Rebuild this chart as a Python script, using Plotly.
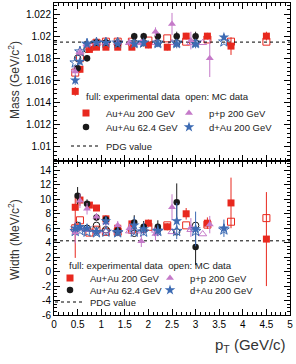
import plotly.graph_objects as go
from plotly.subplots import make_subplots

# ---------------- data ----------------
# Au+Au 200 GeV (red squares)
pt_auau200 = [0.45, 0.55, 0.75, 0.9, 1.1, 1.35, 1.65, 2.0, 2.4, 2.8, 3.25, 3.75, 4.5]
mass_auau200 = [1.0150, 1.0170, 1.0188, 1.0190, 1.0190, 1.0190, 1.0190, 1.0192, 1.0190, 1.0200, 1.0200, 1.0191, 1.0200]
mass_err_auau200 = [0.0004, 0.0003, 0.0003, 0.0002, 0.0002, 0.0002, 0.0002, 0.0003, 0.0003, 0.0003, 0.0003, 0.0008, 0.0004]
width_auau200 = [8.9, 9.9, 9.2, 8.8, 7.3, 6.0, 6.6, 6.7, 6.2, 8.0, 6.7, 9.5, 4.5]
width_errp_auau200 = [1.5, 0.8, 0.5, 0.4, 0.5, 0.5, 0.5, 0.5, 0.5, 0.8, 0.8, 3.5, 6.5]
width_errm_auau200 = [7.0, 0.8, 0.5, 0.4, 0.5, 0.5, 0.5, 0.5, 0.5, 0.8, 0.8, 3.5, 6.5]
mass_auau200_mc = [1.0167, 1.0180, 1.0190, 1.0194, 1.0195, 1.0195, 1.0195, 1.0196, 1.0198, 1.0195, 1.0197, 1.0195, 1.0195]
width_auau200_mc = [6.0, 7.1, 5.4, 5.8, 5.5, 5.5, 5.8, 6.2, 6.4, 6.4, 6.5, 6.9, 7.4]

# Au+Au 62.4 GeV (black circles)
pt_auau62 = [0.5, 0.7, 0.9, 1.1, 1.35, 1.7, 1.9, 2.2, 2.6, 3.0]
mass_auau62 = [1.0171, 1.0180, 1.0194, 1.0194, 1.0193, 1.0200, 1.0200, 1.0200, 1.0200, 1.0200]
mass_err_auau62 = [0.0004, 0.0003, 0.0002, 0.0002, 0.0002, 0.0003, 0.0003, 0.0003, 0.0004, 0.0004]
width_auau62 = [10.5, 9.4, 7.5, 7.2, 5.7, 6.8, 6.2, 6.2, 9.6, 3.4]
width_err_auau62 = [1.2, 0.6, 0.5, 0.5, 0.5, 1.0, 0.8, 0.9, 2.6, 2.5]
mass_auau62_mc = [1.0180, 1.0188, 1.0194, 1.0194, 1.0194, 1.0194, 1.0194, 1.0194, 1.0194, 1.0194]
width_auau62_mc = [6.4, 6.0, 6.4, 5.8, 5.6, 5.3, 5.8, 5.8, 5.5, 6.4]

# p+p 200 GeV (violet triangles)
pt_pp = [0.45, 0.55, 0.7, 0.9, 1.1, 1.35, 1.6, 1.85, 2.15, 2.5, 2.9, 3.3]
mass_pp = [1.0168, 1.0185, 1.0192, 1.0194, 1.0194, 1.0194, 1.0194, 1.0194, 1.0204, 1.0211, 1.0196, 1.0180]
mass_err_pp = [0.0004, 0.0003, 0.0003, 0.0002, 0.0002, 0.0002, 0.0003, 0.0003, 0.0004, 0.0010, 0.0008, 0.0017]
width_pp = [5.4, 9.8, 8.7, 7.6, 6.8, 6.4, 6.0, 4.2, 5.2, 8.9, 6.1, 6.5]
width_err_pp = [1.5, 1.0, 0.8, 0.5, 0.6, 0.6, 0.6, 0.8, 0.9, 1.8, 1.3, 1.2]
pt_pp_mc = [0.45, 0.55, 0.7, 0.9, 1.1, 1.35, 1.6, 1.85, 2.15, 2.5, 2.9, 3.15]
mass_pp_mc = [1.0170, 1.0186, 1.0193, 1.0194, 1.0194, 1.0194, 1.0194, 1.0194, 1.0194, 1.0194, 1.0194, 1.0194]
width_pp_mc = [5.8, 6.0, 5.8, 5.6, 5.6, 5.6, 5.6, 5.6, 5.7, 5.5, 5.8, 5.2]

# d+Au 200 GeV (blue stars)
pt_dau = [0.45, 0.55, 0.7, 0.9, 1.1, 1.35, 1.7, 1.9, 2.2, 2.6, 3.0, 3.6]
mass_dau = [1.0160, 1.0177, 1.0193, 1.0194, 1.0194, 1.0193, 1.0193, 1.0194, 1.0193, 1.0193, 1.0193, 1.0199]
mass_err_dau = [0.0004, 0.0003, 0.0003, 0.0002, 0.0002, 0.0002, 0.0003, 0.0003, 0.0003, 0.0004, 0.0004, 0.0003]
width_dau = [6.0, 6.2, 6.0, 5.5, 7.0, 5.5, 6.4, 5.9, 5.7, 7.0, 5.9, 6.0]
width_err_dau = [0.6, 0.6, 0.5, 0.5, 0.6, 0.6, 1.2, 0.9, 0.8, 2.5, 2.4, 1.2]
mass_dau_mc = [1.0176, 1.0186, 1.0193, 1.0194, 1.0194, 1.0194, 1.0194, 1.0194, 1.0194, 1.0194, 1.0194, 1.0195]
width_dau_mc = [5.6, 5.7, 5.5, 5.4, 5.5, 5.4, 5.5, 5.5, 5.6, 5.6, 5.6, 5.8]

pdg_mass = 1.019461
pdg_width = 4.26

x_tickvals = [0, 0.5, 1, 1.5, 2, 2.5, 3, 3.5, 4, 4.5, 5]
x_ticktext = ["0", "0.5", "1", "1.5", "2", "2.5", "3", "3.5", "4", "4.5", "5"]
mass_tickvals = [1.010, 1.012, 1.014, 1.016, 1.018, 1.020, 1.022]
mass_ticktext = ["1.01", "1.012", "1.014", "1.016", "1.018", "1.02", "1.022"]
width_tickvals = [-6, -4, -2, 0, 2, 4, 6, 8, 10, 12, 14]
width_ticktext = ["-6", "-4", "-2", "0", "2", "4", "6", "8", "10", "12", "14"]

# ---------------- style ----------------
RED = "#e8281e"
BLACK = "#1a1a1a"
VIOLET = "#c57ac9"
BLUE = "#3d6bb3"
FONT = "Liberation Sans, Arial, sans-serif"

W, H = 296, 364
ML, MR, MT, MB = 54, 6, 3, 49
PW, PH = W - ML - MR, H - MT - MB


def px_x(p):
    return (p - ML) / PW


def px_y(p):
    return (H - MB - p) / PH


split = px_y(161)

fig = make_subplots(rows=2, cols=1, shared_xaxes=True, vertical_spacing=0)

series = [
    ("Au+Au 200 GeV", RED, "square", "square-open", 7, pt_auau200, mass_auau200, mass_err_auau200,
     width_auau200, width_errp_auau200, width_errm_auau200, pt_auau200, mass_auau200_mc, width_auau200_mc, 0, 0),
    ("Au+Au 62.4 GeV", BLACK, "circle", "circle-open", 6.5, pt_auau62, mass_auau62, mass_err_auau62,
     width_auau62, width_err_auau62, width_err_auau62, pt_auau62, mass_auau62_mc, width_auau62_mc, 0, 1),
    ("p+p 200 GeV", VIOLET, "triangle-up", "triangle-up-open", 7, pt_pp, mass_pp, mass_err_pp,
     width_pp, width_err_pp, width_err_pp, pt_pp_mc, mass_pp_mc, width_pp_mc, 1, 0),
    ("d+Au 200 GeV", BLUE, "star", "star-open", 8, pt_dau, mass_dau, mass_err_dau,
     width_dau, width_err_dau, width_err_dau, pt_dau, mass_dau_mc, width_dau_mc, 1, 1),
]

top_col_x = [px_x(66), px_x(169)]
top_row_y = [px_y(113), px_y(127), px_y(146)]
bot_col_x = [px_x(50), px_x(150)]
bot_row_y = [px_y(278), px_y(290), px_y(302)]

legend_layouts = {}
lid = 1


def new_legend(x, y):
    global lid
    name = "legend" if lid == 1 else f"legend{lid}"
    legend_layouts[name] = dict(x=x, y=y, xanchor="left", yanchor="middle",
                                bgcolor="rgba(0,0,0,0)", borderwidth=0,
                                font=dict(family=FONT, size=9.5, color="#222"))
    lid += 1
    return name


for (name, col, sym, osym, size, xs, m, me, w, wep, wem, xmc, mmc, wmc, c, r) in series:
    fig.add_trace(go.Scatter(x=xmc, y=mmc, mode="markers", showlegend=False,
                             marker=dict(symbol=osym, size=size, color=col, line=dict(color=col, width=1))),
                  row=1, col=1)
    fig.add_trace(go.Scatter(x=xmc, y=wmc, mode="markers", showlegend=False,
                             marker=dict(symbol=osym, size=size, color=col, line=dict(color=col, width=1))),
                  row=2, col=1)

xline = [x_tickvals[0], x_tickvals[-1]]
fig.add_trace(go.Scatter(x=xline, y=[pdg_mass, pdg_mass], mode="lines", name="PDG value",
                         line=dict(color="black", width=1, dash="dot"),
                         legend=new_legend(top_col_x[0], top_row_y[2])), row=1, col=1)
fig.add_trace(go.Scatter(x=xline, y=[pdg_width, pdg_width], mode="lines", name="PDG value",
                         line=dict(color="black", width=1, dash="dot"),
                         legend=new_legend(bot_col_x[0], bot_row_y[2])), row=2, col=1)

for (name, col, sym, osym, size, xs, m, me, w, wep, wem, xmc, mmc, wmc, c, r) in series:
    fig.add_trace(go.Scatter(x=xs, y=m, mode="markers", name=name,
                             marker=dict(symbol=sym, size=size, color=col, line=dict(width=0)),
                             error_y=dict(type="data", array=me, color=col, thickness=1, width=0),
                             legend=new_legend(top_col_x[c], top_row_y[r])), row=1, col=1)
    fig.add_trace(go.Scatter(x=xs, y=w, mode="markers", name=name,
                             marker=dict(symbol=sym, size=size, color=col, line=dict(width=0)),
                             error_y=dict(type="data", array=wep, arrayminus=wem, symmetric=False,
                                          color=col, thickness=1, width=0),
                             legend=new_legend(bot_col_x[c], bot_row_y[r])), row=2, col=1)

axis_common = dict(showline=True, linecolor="black", linewidth=1, mirror="ticks",
                   ticks="inside", ticklen=6, tickcolor="black", showgrid=False, zeroline=False,
                   tickfont=dict(family=FONT, size=10, color="black"))

fig.update_xaxes(range=[0, 5], tickmode="array", tickvals=x_tickvals, ticktext=x_ticktext,
                 minor=dict(tickmode="linear", tick0=0, dtick=0.1, ticks="inside", ticklen=3,
                            tickcolor="black", showgrid=False),
                 **axis_common)
fig.update_xaxes(showticklabels=False, row=1, col=1)
fig.update_yaxes(range=[1.0087, 1.0230], tickmode="array", tickvals=mass_tickvals, ticktext=mass_ticktext,
                 minor=dict(tickmode="linear", tick0=1.0, dtick=0.0004, ticks="inside", ticklen=3,
                            tickcolor="black", showgrid=False),
                 domain=[split, 1], row=1, col=1, **axis_common)
fig.update_yaxes(range=[-6, 15.3], tickmode="array", tickvals=width_tickvals, ticktext=width_ticktext,
                 minor=dict(tickmode="linear", tick0=0, dtick=0.5, ticks="inside", ticklen=3,
                            tickcolor="black", showgrid=False),
                 domain=[0, split], row=2, col=1, **axis_common)

annotations = [
    dict(text="Mass (GeV/c<sup>2</sup>)", x=px_x(14), y=px_y(80), textangle=-90,
         xanchor="center", yanchor="middle", font=dict(family=FONT, size=12, color="#333")),
    dict(text="Width (MeV/c<sup>2</sup>)", x=px_x(14), y=px_y(240), textangle=-90,
         xanchor="center", yanchor="middle", font=dict(family=FONT, size=12, color="#333")),
    dict(text="p<sub>T</sub> (GeV/c)", x=px_x(288), y=px_y(345), xanchor="right", yanchor="middle",
         font=dict(family=FONT, size=15, color="#333")),
    dict(text="full: experimental data\u00a0\u00a0open: MC data", x=px_x(84), y=px_y(96),
         xanchor="left", yanchor="middle", font=dict(family=FONT, size=9.6, color="#222")),
    dict(text="full: experimental data\u00a0\u00a0open: MC data", x=px_x(67), y=px_y(265),
         xanchor="left", yanchor="middle", font=dict(family=FONT, size=9.6, color="#222")),
]
for a in annotations:
    a.update(xref="paper", yref="paper", showarrow=False)

fig.update_layout(width=W, height=H, margin=dict(l=ML, r=MR, t=MT, b=MB),
                  paper_bgcolor="white", plot_bgcolor="white",
                  annotations=annotations, **legend_layouts)

fig.write_html("out.html")
